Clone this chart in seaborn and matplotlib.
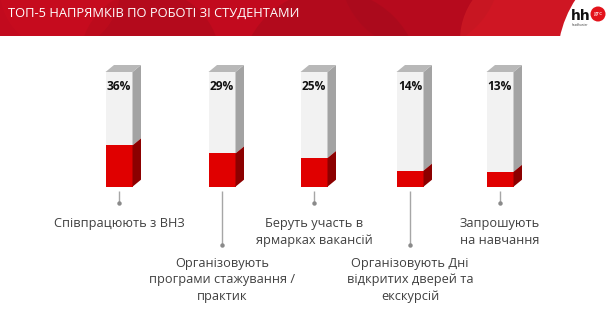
import numpy as np
import pandas as pd
import matplotlib
matplotlib.use("Agg")
import matplotlib.pyplot as plt
from matplotlib.patches import Polygon, Rectangle, Circle
import seaborn as sns

# ---- data -------------------------------------------------------------
categories = [
    "Співпрацюють з ВНЗ",
    "Організовують\nпрограми стажування /\nпрактик",
    "Беруть участь в\nярмарках вакансій",
    "Організовують Дні\nвідкритих дверей та\nекскурсій",
    "Запрошують\nна навчання",
]
shares = [36, 29, 25, 14, 13]
pct_labels = ["36%", "29%", "25%", "14%", "13%"]
title = "ТОП-5 НАПРЯМКІВ ПО РОБОТІ ЗІ СТУДЕНТАМИ"

# ---- layout (pixels on a 610x323 canvas) -------------------------------
W, H = 610, 323
bar_x = [119, 222, 314, 410, 500]          # bar centres
bar_w = 27                                  # front face width
depth_x, depth_y = 8.5, 7.0                 # 3-D side offset
base_px, px_per_pct = 186.7, 1.147          # 0 % line and scale
label_drop = [0, 1, 0, 1, 0]                # 0 = upper row, 1 = lower row

C_RED, C_RED_SIDE = "#E00000", "#8C0000"
C_FACE, C_SIDE, C_TOP = "#F2F2F2", "#A3A3A3", "#B8B8B8"
C_TEXT = "#404040"

sns.set_theme(style="white")
plt.rcParams["font.family"] = ["Open Sans", "DejaVu Sans"]

fig = plt.figure(figsize=(W / 100, H / 100), dpi=100)

def pct(py):
    return (base_px - py) / px_per_pct

# data axes: x in pixels, y in percent
ax = fig.add_axes([0, 0, 1, 1])
df = pd.DataFrame({"x": bar_x, "share": shares, "full": [100] * len(shares)})
rel_w = bar_w / np.diff(sorted(bar_x)).min()
sns.barplot(data=df, x="x", y="full", native_scale=True, orient="x",
            width=rel_w, color=C_FACE, saturation=1, linewidth=0, ax=ax)
sns.barplot(data=df, x="x", y="share", native_scale=True, orient="x",
            width=rel_w, color=C_RED, saturation=1, linewidth=0, ax=ax)

dy = depth_y / px_per_pct
full_bars, red_bars = ax.containers[0], ax.containers[1]
for fb, rb in zip(full_bars, red_bars):
    x0, w = fb.get_x(), fb.get_width()
    x1 = x0 + w
    top = fb.get_height()
    v = rb.get_height()
    # side face: grey upper part, dark red lower part
    ax.add_patch(Polygon([(x1, v), (x1 + depth_x, v + dy), (x1 + depth_x, top + dy), (x1, top)],
                         closed=True, fc=C_SIDE, ec="none", zorder=3))
    ax.add_patch(Polygon([(x1, 0), (x1 + depth_x, dy), (x1 + depth_x, v + dy), (x1, v)],
                         closed=True, fc=C_RED_SIDE, ec="none", zorder=3))
    # top face
    ax.add_patch(Polygon([(x0, top), (x1, top), (x1 + depth_x, top + dy), (x0 + depth_x, top + dy)],
                         closed=True, fc=C_TOP, ec="none", zorder=3))

ax.set_xlim(0, W)
ax.set_ylim(pct(H), pct(0))
ax.axis("off")

# overlay axes in pixel coordinates for header, labels and connectors
ov = fig.add_axes([0, 0, 1, 1], zorder=5)
ov.set_xlim(0, W)
ov.set_ylim(H, 0)
ov.axis("off")
ov.patch.set_alpha(0)

# header band
hdr = Rectangle((0, 0), W, 36, fc="#C20A1E", ec="none")
ov.add_patch(hdr)
for (cx, cy, r, col, a) in [(150, 60, 70, "#8E0A18", 0.25), (330, 80, 90, "#8E0A18", 0.3),
                            (420, -30, 80, "#A00A1C", 0.35), (530, 40, 70, "#E0262A", 0.45),
                            (60, -10, 60, "#D0101E", 0.3)]:
    c = Circle((cx, cy), r, fc=col, ec="none", alpha=a)
    ov.add_patch(c)
    c.set_clip_path(hdr)
white = Circle((668, 60), 110.5, fc="white", ec="none")
ov.add_patch(white)
white.set_clip_path(hdr)

ov.text(8, 13.5, title, color="white", fontsize=9.3, va="center", ha="left",
        family=["Liberation Sans Narrow", "Open Sans"])

# logo
ov.text(581, 16, "hh", color="#111111", fontsize=10, fontweight="bold", va="center", ha="center",
        family=["DejaVu Sans"])
ov.add_patch(Circle((598, 14), 7.5, fc="#E3131B", ec="none"))
ov.text(598, 13.5, "grc", color="white", fontsize=4.6, va="center", ha="center")
ov.text(580, 25.5, "headhunter", color="#333333", fontsize=2.2, va="center", ha="center")

# percentages, connectors and category labels
for bx, lab, cat, drop in zip(bar_x, pct_labels, categories, label_drop):
    ov.text(bx, 87, lab, color="#111111", fontsize=8.6, fontweight="bold",
            ha="center", va="center")
    y_end = 245 if drop else 203
    ov.plot([bx, bx], [191, y_end], color="#A6A6A6", lw=1.0, solid_capstyle="butt")
    ov.plot([bx], [y_end], marker="o", ms=3.2, color="#8A8A8A", mec="none")
    ty = 262.5 if drop else 223
    ov.text(bx, ty - 6, cat, color=C_TEXT, fontsize=9.2, ha="center", va="top",
            linespacing=1.38, multialignment="center")

fig.savefig("out.png", dpi=100)
